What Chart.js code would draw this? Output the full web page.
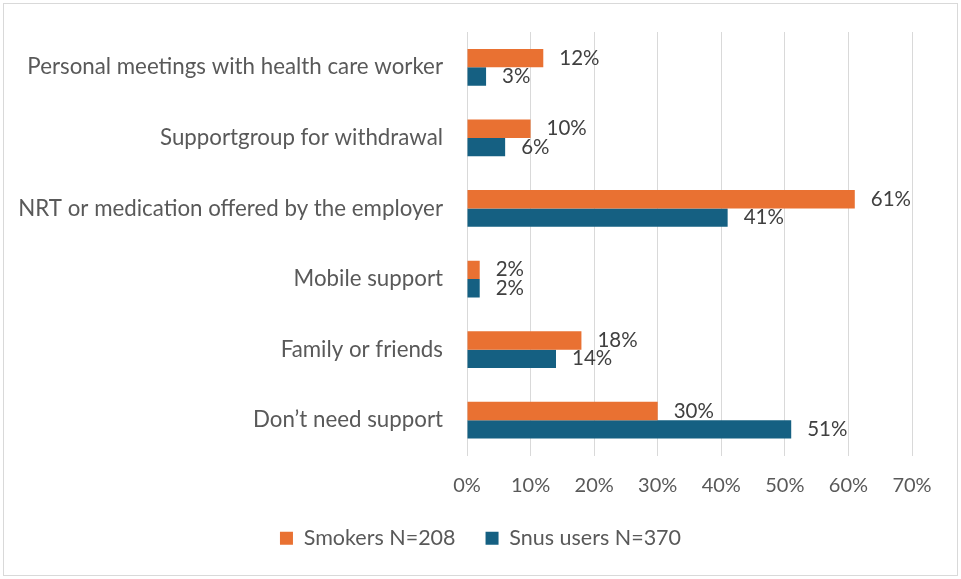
<!DOCTYPE html>
<html>
<head>
<meta charset="utf-8">
<script src="https://cdn.jsdelivr.net/npm/chart.js@4.4.1/dist/chart.umd.min.js"></script>
<style>
  html, body { margin: 0; padding: 0; background: #ffffff; }
  #wrap { width: 961px; height: 579px; position: relative; }
</style>
</head>
<body>
<div id="wrap"><canvas id="c" width="961" height="579"></canvas></div>
<script>
// Support types, top to bottom
const categories = [
  "Personal meetings with health care worker",
  "Supportgroup for withdrawal",
  "NRT or medication offered by the employer",
  "Mobile support",
  "Family or friends",
  "Don\u2019t need support"
];
const seriesNames = ["Smokers N=208", "Snus users N=370"];
const smokers = [12, 10, 61, 2, 18, 30];
const snusUsers = [3, 6, 41, 2, 14, 51];
const xTicks = [0, 10, 20, 30, 40, 50, 60, 70];

const FONT = "Lato, 'Open Sans', sans-serif";
const ORANGE = "#E97132";
const BLUE = "#156082";

// Frame around the whole chart
const framePlugin = {
  id: "frame",
  beforeDraw(chart) {
    const ctx = chart.ctx;
    ctx.save();
    ctx.fillStyle = "#ffffff";
    ctx.fillRect(0, 0, chart.width, chart.height);
    ctx.strokeStyle = "#d9d9d9";
    ctx.lineWidth = 1;
    ctx.strokeRect(3.5, 3.5, chart.width - 7, chart.height - 7);
    ctx.restore();
  }
};

// Centre the legend under the whole frame rather than under the padded area
const legendShift = {
  id: "legendShift",
  afterLayout(chart) {
    const lg = chart.legend;
    if (!lg) return;
    const shift = (chart.width - (lg.right - lg.left)) / 2 - lg.left;
    lg.left += shift;
    lg.right += shift;
  }
};

// Percent labels just past each bar end
const valueLabels = {
  id: "valueLabels",
  afterDatasetsDraw(chart) {
    const ctx = chart.ctx;
    ctx.save();
    ctx.font = "20.5px " + FONT;
    ctx.fillStyle = "#404040";
    ctx.textAlign = "left";
    ctx.textBaseline = "middle";
    chart.data.datasets.forEach((ds, di) => {
      chart.getDatasetMeta(di).data.forEach((bar, i) => {
        ctx.fillText(ds.data[i] + "%", bar.x + 16, bar.y);
      });
    });
    ctx.restore();
  }
};

new Chart(document.getElementById("c"), {
  type: "bar",
  data: {
    labels: categories,
    datasets: [
      { label: seriesNames[0], data: smokers, backgroundColor: ORANGE },
      { label: seriesNames[1], data: snusUsers, backgroundColor: BLUE }
    ]
  },
  options: {
    indexAxis: "y",
    responsive: false,
    devicePixelRatio: 1,
    animation: false,
    categoryPercentage: 0.52,
    barPercentage: 1.0,
    layout: { padding: { left: 0, right: 49, top: 32, bottom: 20 } },
    scales: {
      x: {
        min: 0,
        max: 70,
        afterBuildTicks(scale) { scale.ticks = xTicks.map(v => ({ value: v })); },
        afterFit(scale) { scale.height = 42; },
        grid: { color: "#d9d9d9", lineWidth: 1, drawTicks: false },
        border: { display: false },
        ticks: {
          padding: 18,
          color: "#595959",
          font: { family: FONT, size: 20 },
          callback: v => v + "%"
        }
      },
      y: {
        afterFit(scale) {
          scale.width = 467;
          // category labels sit well inside the plot height; no extra room needed
          scale.paddingTop = 0;
          scale.paddingBottom = 0;
        },
        grid: { display: false, drawTicks: false },
        border: { display: false },
        ticks: {
          padding: 24,
          color: "#595959",
          font: { family: FONT, size: 22.3 }
        }
      }
    },
    plugins: {
      legend: {
        position: "bottom",
        labels: {
          boxWidth: 13,
          boxHeight: 13,
          padding: 30,
          color: "#595959",
          font: { family: FONT, size: 21.5 }
        }
      },
      tooltip: { enabled: false }
    }
  },
  plugins: [framePlugin, legendShift, valueLabels]
});
</script>
</body>
</html>
